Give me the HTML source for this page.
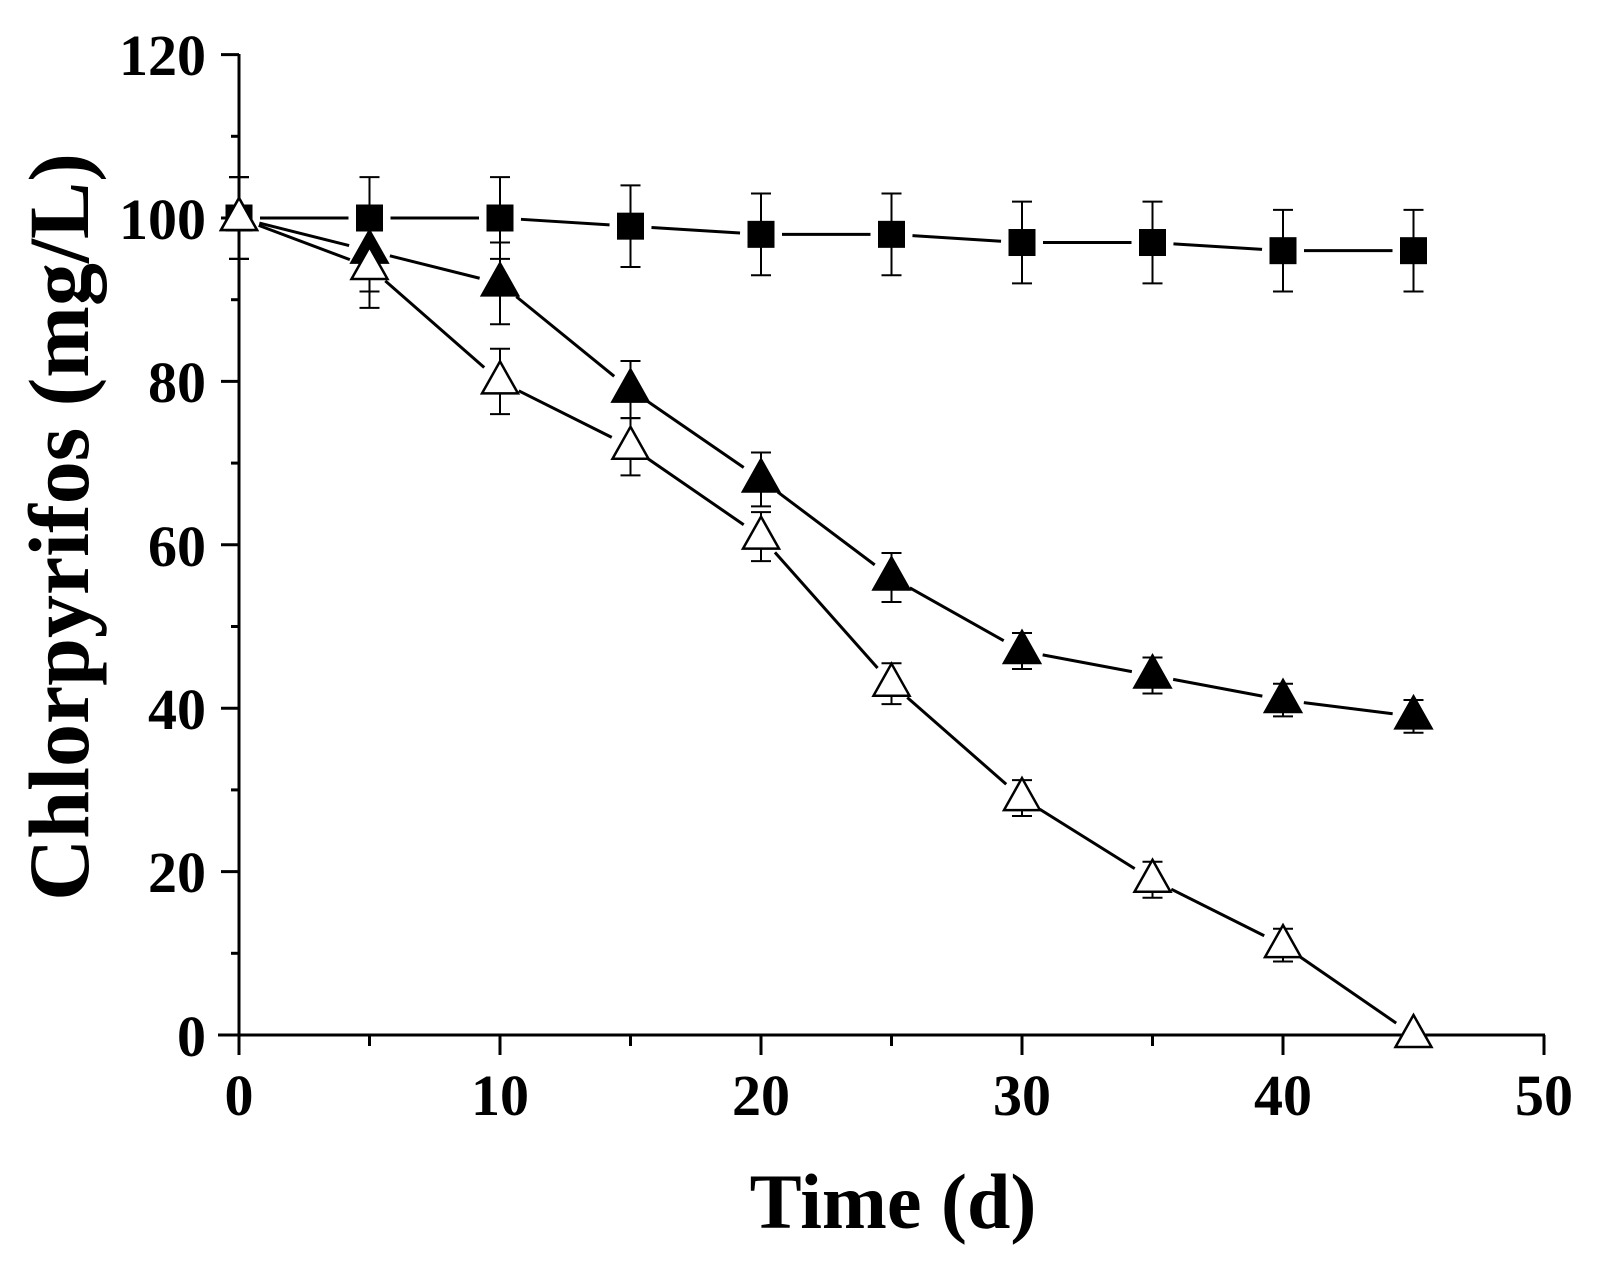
<!DOCTYPE html>
<html><head><meta charset="utf-8"><style>
html,body{margin:0;padding:0;background:#fff;}
svg{display:block;}
text{font-family:"Liberation Serif",serif;font-weight:bold;fill:#000;}
</style></head><body>
<svg id="s" width="1605" height="1283" viewBox="0 0 1605 1283" xmlns="http://www.w3.org/2000/svg">
<rect width="1605" height="1283" fill="#fff"/>
<g id="axes" stroke="#000" stroke-width="3" fill="none">
<line x1="239" y1="54" x2="239" y2="1036"/>
<line x1="218" y1="1035" x2="1545" y2="1035"/>
</g>
<g id="ticks" stroke="#000" stroke-width="3"></g>
<g font-size="58" text-anchor="end">
<text x="206" y="1056">0</text>
<text x="206" y="892">20</text>
<text x="206" y="729">40</text>
<text x="206" y="566">60</text>
<text x="206" y="402">80</text>
<text x="206" y="239">100</text>
<text x="206" y="75">120</text>
</g>
<g font-size="58" text-anchor="middle">
<text x="239" y="1115">0</text>
<text x="500" y="1115">10</text>
<text x="761" y="1115">20</text>
<text x="1022" y="1115">30</text>
<text x="1283" y="1115">40</text>
<text x="1544" y="1115">50</text>
</g>
<text x="893" y="1228" font-size="78" text-anchor="middle">Time (d)</text>
<text transform="translate(88,527) rotate(-90)" font-size="86" text-anchor="middle">Chlorpyrifos (mg/L)</text>
<g id="data"></g>
</svg>
<script>
var X=function(v){return 239+v*26.1},Y=function(v){return 1035-v*8.17};
var t=document.getElementById('ticks'),h='';
for(var v=0;v<=120;v+=10){var y=Y(v);h+='<line x1="'+(v%20?231:221)+'" y1="'+y+'" x2="239" y2="'+y+'"/>';}
for(var v=0;v<=50;v+=5){var x=X(v);h+='<line x1="'+x+'" y1="1035" x2="'+x+'" y2="'+(v%10?1046:1055)+'"/>';}
t.innerHTML=h;
var xs=[0,5,10,15,20,25,30,35,40,45];
var S=[[100,100,100,99,98,98,97,97,96,96],[5,5,5,5,5,5,5,5,5,5]];
var F=[[100,96,92,79,68,56,47,44,41,39],[5,5,5,3.5,3.3,3,2.2,2.2,2,2]];
var O=[[100,94,80,72,61,43,29,19,11,0],[5,5,4,3.5,3,2.5,2.2,2.2,2,0.3]];
var d='';
function series(P,type){
 var v=P[0],e=P[1];
 for(var i=0;i<9;i++){var x1=X(xs[i]),y1=Y(v[i]),x2=X(xs[i+1]),y2=Y(v[i+1]);
  var dx=x2-x1,dy=y2-y1,L=Math.sqrt(dx*dx+dy*dy),g=21;
  d+='<line x1="'+(x1+dx*g/L)+'" y1="'+(y1+dy*g/L)+'" x2="'+(x2-dx*g/L)+'" y2="'+(y2-dy*g/L)+'" stroke="#000" stroke-width="3"/>';}
 for(var i=0;i<10;i++){var x=X(xs[i]),y=Y(v[i]),a=Y(v[i]+e[i]),b=Y(v[i]-e[i]);
  d+='<g stroke="#000" stroke-width="2"><line x1="'+x+'" y1="'+a+'" x2="'+x+'" y2="'+b+'"/><line x1="'+(x-10)+'" y1="'+a+'" x2="'+(x+10)+'" y2="'+a+'"/><line x1="'+(x-10)+'" y1="'+b+'" x2="'+(x+10)+'" y2="'+b+'"/></g>';
  if(type=='s')d+='<rect x="'+(x-13.5)+'" y="'+(y-13.5)+'" width="27" height="27" fill="#000"/>';
  else d+='<polygon points="'+x+','+(y-20)+' '+(x+18)+','+(y+12)+' '+(x-18)+','+(y+12)+'" fill="'+(type=='f'?'#000':'#fff')+'" stroke="#000" stroke-width="2.5"/>';
 }
}
series(S,'s');series(F,'f');series(O,'o');
document.getElementById('data').innerHTML=d;
</script>
</body></html>
